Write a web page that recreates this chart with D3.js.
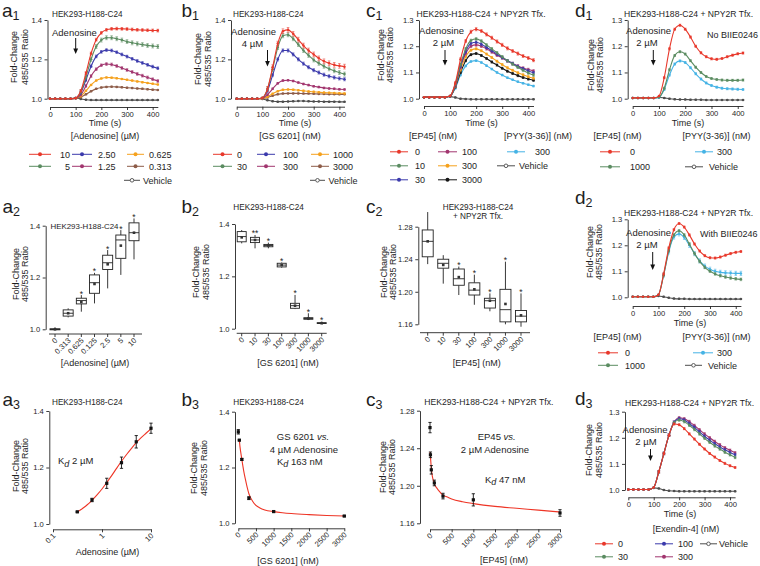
<!DOCTYPE html>
<html><head><meta charset="utf-8">
<script src="https://cdn.jsdelivr.net/npm/d3@7/dist/d3.min.js"></script>
<style>
html,body{margin:0;padding:0;background:#fff;}
svg text{font-family:"Liberation Sans",Arial,Helvetica,sans-serif;fill:#1e1e1e;}
</style></head><body>
<svg id="fig" width="760" height="566" xmlns="http://www.w3.org/2000/svg"></svg>
<script>
// ======================= DATA =======================
const TIME = [0,20,40,60,80,100,120,140,160,180,200,220,240,260,280,300,320,340,360,380,400,420];
const TIME_TICKS = [0,100,200,300,400];

// ---- a1 : [Adenosine] (uM)
const a1Labels = ["10","5","2.50","1.25","0.625","0.313","Vehicle"];
const a1_10   = [1.000,1.000,1.000,1.000,1.000,1.003,1.040,1.130,1.230,1.300,1.335,1.350,1.355,1.356,1.355,1.354,1.352,1.350,1.349,1.348,1.347,1.346];
const a1_5    = [1.000,1.000,1.000,1.000,1.000,1.003,1.035,1.110,1.200,1.265,1.298,1.310,1.310,1.305,1.298,1.290,1.284,1.279,1.275,1.271,1.268,1.265];
const a1_250  = [1.000,1.000,1.000,1.000,1.000,1.003,1.030,1.095,1.165,1.215,1.238,1.247,1.245,1.236,1.225,1.214,1.203,1.192,1.182,1.172,1.163,1.155];
const a1_125  = [1.000,1.000,1.000,1.000,1.000,1.002,1.020,1.065,1.115,1.150,1.170,1.176,1.174,1.166,1.156,1.146,1.136,1.126,1.117,1.108,1.099,1.090];
const a1_0625 = [1.000,1.000,1.000,1.000,1.000,1.002,1.013,1.040,1.070,1.092,1.103,1.108,1.107,1.104,1.100,1.096,1.092,1.088,1.084,1.080,1.076,1.072];
const a1_0313 = [1.000,1.000,1.000,1.000,1.000,1.001,1.008,1.022,1.038,1.050,1.057,1.060,1.061,1.060,1.058,1.056,1.054,1.052,1.050,1.048,1.046,1.044];
const a1_veh  = [1.000,1.000,1.000,1.000,1.000,1.003,0.999,0.995,0.993,0.993,0.993,0.993,0.993,0.993,0.993,0.993,0.993,0.993,0.993,0.993,0.993,0.993];
const a1Err   = [0.007,0.010,0.007,0.007,0.003,0.003,0.002];

// ---- b1 : [GS 6201] (nM)
const b1Labels = ["0","30","100","300","1000","3000","Vehicle"];
const b1_0    = [1.000,1.000,1.000,1.000,1.000,1.005,1.050,1.160,1.280,1.343,1.350,1.330,1.300,1.270,1.245,1.225,1.205,1.190,1.180,1.172,1.167,1.163];
const b1_30   = [1.000,1.000,1.000,1.000,1.000,1.005,1.050,1.150,1.260,1.320,1.325,1.305,1.275,1.245,1.220,1.197,1.180,1.165,1.152,1.142,1.133,1.125];
const b1_100  = [1.000,1.000,1.000,1.000,1.000,1.004,1.040,1.120,1.200,1.245,1.245,1.225,1.200,1.178,1.160,1.145,1.133,1.122,1.114,1.108,1.103,1.099];
const b1_300  = [1.000,1.000,1.000,1.000,1.000,1.002,1.020,1.050,1.078,1.092,1.094,1.090,1.082,1.075,1.069,1.063,1.059,1.055,1.052,1.050,1.048,1.047];
const b1_1000 = [1.000,1.000,1.000,1.000,1.000,1.001,1.010,1.025,1.038,1.045,1.047,1.046,1.043,1.040,1.037,1.035,1.033,1.031,1.030,1.029,1.028,1.027];
const b1_3000 = [1.000,1.000,1.000,1.000,1.000,1.001,1.006,1.015,1.022,1.026,1.027,1.027,1.027,1.026,1.026,1.025,1.024,1.024,1.023,1.023,1.022,1.022];
const b1_veh  = [1.000,1.000,1.000,1.000,1.000,0.999,0.992,0.987,0.985,0.985,0.986,0.987,0.988,0.988,0.987,0.986,0.986,0.985,0.985,0.985,0.984,0.984];
const b1Err   = [0.012,0.010,0.008,0.004,0.003,0.002,0.002];

// ---- c1 : [EP45] (nM), [PYY(3-36)] (nM)
const c1Labels = ["0","10","30","100","300","3000","300","Vehicle"];
const c1_0    = [1.006,1.006,1.006,1.006,1.006,1.010,1.060,1.150,1.220,1.255,1.265,1.258,1.245,1.232,1.218,1.205,1.192,1.182,1.172,1.163,1.155,1.147];
const c1_10   = [1.006,1.006,1.006,1.006,1.006,1.010,1.055,1.130,1.190,1.222,1.228,1.220,1.205,1.190,1.175,1.160,1.145,1.132,1.120,1.108,1.098,1.090];
const c1_30   = [1.006,1.006,1.006,1.006,1.006,1.010,1.052,1.125,1.180,1.210,1.215,1.208,1.196,1.183,1.170,1.157,1.145,1.134,1.123,1.114,1.106,1.099];
const c1_100  = [1.006,1.006,1.006,1.006,1.006,1.010,1.050,1.120,1.172,1.200,1.205,1.200,1.190,1.178,1.166,1.155,1.144,1.134,1.125,1.117,1.111,1.106];
const c1_300  = [1.006,1.006,1.006,1.006,1.006,1.010,1.048,1.110,1.160,1.185,1.190,1.183,1.170,1.157,1.143,1.130,1.118,1.108,1.099,1.091,1.084,1.078];
const c1_3000 = [1.006,1.006,1.006,1.006,1.006,1.009,1.045,1.100,1.145,1.168,1.172,1.165,1.153,1.140,1.128,1.116,1.105,1.096,1.088,1.081,1.075,1.070];
const c1_pyy  = [1.006,1.006,1.006,1.006,1.006,1.009,1.040,1.090,1.125,1.142,1.145,1.138,1.126,1.113,1.100,1.090,1.080,1.072,1.065,1.059,1.053,1.048];
const c1_veh  = [1.006,1.006,1.006,1.006,1.006,1.008,1.005,1.000,0.999,0.998,0.998,0.998,0.998,0.998,0.998,0.998,0.998,0.998,0.998,0.998,0.998,0.998];
const c1Err   = [0.006,0.005,0.005,0.005,0.004,0.004,0.003,0.002];

// ---- d1 : No BIIE0246
const d1Labels = ["0","1000","300","Vehicle"];
const d1_0    = [1.003,1.003,1.003,1.003,1.003,1.010,1.080,1.190,1.265,1.280,1.265,1.235,1.200,1.175,1.160,1.152,1.150,1.153,1.160,1.166,1.171,1.174];
const d1_1000 = [1.003,1.003,1.003,1.003,1.003,1.006,1.040,1.110,1.165,1.179,1.170,1.145,1.120,1.100,1.085,1.077,1.073,1.071,1.070,1.070,1.070,1.071];
const d1_pyy  = [1.003,1.003,1.003,1.003,1.003,1.005,1.035,1.090,1.132,1.144,1.138,1.118,1.095,1.075,1.060,1.050,1.044,1.040,1.038,1.037,1.036,1.035];
const d1_veh  = [1.003,1.003,1.003,1.003,1.003,1.005,1.003,1.000,0.998,0.997,0.997,0.996,0.996,0.996,0.995,0.995,0.995,0.995,0.995,0.995,0.995,0.995];
const d1Err   = [0.004,0.004,0.004,0.002];

// ---- d2 : With BIIE0246
const d2Labels = ["0","1000","300","Vehicle"];
const d2_0    = [1.002,1.002,1.002,1.002,1.002,1.010,1.090,1.190,1.260,1.284,1.270,1.240,1.205,1.178,1.160,1.152,1.151,1.155,1.162,1.168,1.173,1.176];
const d2_1000 = [1.002,1.002,1.002,1.002,1.002,1.010,1.085,1.180,1.240,1.256,1.240,1.205,1.168,1.138,1.115,1.100,1.090,1.083,1.078,1.074,1.071,1.069];
const d2_pyy  = [1.002,1.002,1.002,1.002,1.002,1.010,1.085,1.175,1.232,1.244,1.230,1.200,1.168,1.140,1.120,1.108,1.100,1.096,1.094,1.093,1.092,1.092];
const d2_veh  = [1.002,1.002,1.002,1.002,1.002,1.005,1.002,0.998,0.995,0.994,0.994,0.993,0.993,0.993,0.993,0.993,0.993,0.993,0.993,0.993,0.993,0.993];
const d2Err   = [0.004,0.005,0.008,0.002];

// ---- d3 : [Exendin-4] (nM)
const d3Labels = ["0","30","100","300","Vehicle"];
const d3_0    = [1.002,1.002,1.002,1.002,1.002,1.010,1.070,1.140,1.210,1.253,1.250,1.235,1.215,1.195,1.175,1.157,1.140,1.126,1.113,1.102,1.093,1.086];
const d3_30   = [1.002,1.002,1.002,1.002,1.002,1.010,1.070,1.140,1.210,1.258,1.268,1.262,1.248,1.232,1.215,1.198,1.183,1.169,1.157,1.145,1.135,1.125];
const d3_100  = [1.002,1.002,1.002,1.002,1.002,1.010,1.070,1.140,1.210,1.260,1.273,1.268,1.255,1.240,1.223,1.206,1.191,1.177,1.165,1.154,1.144,1.135];
const d3_300  = [1.002,1.002,1.002,1.002,1.002,1.010,1.070,1.140,1.210,1.260,1.277,1.273,1.262,1.247,1.231,1.215,1.200,1.186,1.173,1.162,1.152,1.143];
const d3_veh  = [1.002,1.002,1.002,1.002,1.002,1.008,1.006,1.000,0.997,0.996,0.995,0.995,0.995,0.995,0.995,0.995,0.995,0.995,0.995,0.995,0.995,0.995];
const d3Err   = [0.004,0.005,0.005,0.005,0.002];

// ---- a2 box plot
const a2Cats = ["0","0.313","0.625","0.125","2.5","5","10"];
const a2Lo   = [0.997,1.046,1.068,1.100,1.158,1.210,1.270];
const a2Q1   = [0.998,1.051,1.098,1.139,1.231,1.274,1.342];
const a2Med  = [1.000,1.062,1.111,1.180,1.257,1.345,1.373];
const a2Q3   = [1.002,1.075,1.120,1.210,1.286,1.364,1.411];
const a2Hi   = [1.008,1.081,1.132,1.218,1.306,1.383,1.428];
const a2Mean = [1.000,1.062,1.105,1.175,1.251,1.323,1.373];
const a2Star = ["","","*","*","*","*","*"];

// ---- b2 box plot
const b2Cats = ["0","10","30","100","300","1000","3000"];
const b2Lo   = [1.326,1.307,1.307,1.233,1.075,1.033,1.019];
const b2Q1   = [1.332,1.329,1.313,1.236,1.078,1.036,1.020];
const b2Med  = [1.352,1.339,1.318,1.243,1.088,1.039,1.021];
const b2Q3   = [1.371,1.349,1.322,1.250,1.097,1.042,1.023];
const b2Hi   = [1.377,1.358,1.329,1.253,1.129,1.059,1.027];
const b2Mean = [1.349,1.339,1.318,1.243,1.088,1.039,1.021];
const b2Star = ["","**","*","*","*","*","*"];

// ---- c2 box plot
const c2Cats = ["0","10","30","100","300","1000","3000"];
const c2Lo   = [1.234,1.210,1.196,1.184,1.176,1.160,1.157];
const c2Q1   = [1.243,1.229,1.208,1.196,1.180,1.163,1.163];
const c2Med  = [1.262,1.235,1.216,1.202,1.189,1.178,1.170];
const c2Q3   = [1.276,1.240,1.228,1.211,1.192,1.203,1.177];
const c2Hi   = [1.298,1.245,1.231,1.221,1.198,1.237,1.198];
const c2Mean = [1.262,1.233,1.218,1.203,1.189,1.185,1.171];
const c2Star = ["","","*","*","*","*","*"];

// ---- a3 dose response
const a3X   = [0.313,0.625,1.25,2.5,5,10];
const a3Y   = [1.043,1.085,1.144,1.217,1.291,1.339];
const a3E   = [0.002,0.006,0.018,0.020,0.022,0.018];
const a3FitX = [0.313,0.4,0.5,0.625,0.8,1,1.25,1.6,2,2.5,3.2,4,5,6.3,8,10];
const a3FitY = [1.042,1.055,1.068,1.084,1.104,1.124,1.147,1.173,1.198,1.222,1.247,1.268,1.288,1.306,1.322,1.337];

// ---- b3 competition
const b3X   = [0,30,100,300,1000,3000];
const b3Y   = [1.328,1.298,1.229,1.090,1.042,1.026];
const b3E   = [0.008,0.002,0.003,0.005,0.003,0.002];
const b3FitX = [30,50,75,100,150,200,250,300,400,500,600,750,1000,1250,1500,2000,2500,3000];
const b3FitY = [1.298,1.272,1.250,1.229,1.190,1.158,1.130,1.106,1.080,1.064,1.056,1.048,1.042,1.038,1.035,1.031,1.028,1.026];

// ---- c3 competition
const c3X   = [0,10,30,100,300,1000,3000];
const c3Y   = [1.262,1.233,1.217,1.203,1.189,1.185,1.171];
const c3E   = [0.0055,0.003,0.0045,0.003,0.003,0.0065,0.0035];
const c3FitX = [0,10,20,30,50,75,100,150,200,300,400,500,750,1000,1500,2000,2500,3000];
const c3FitY = [1.236,1.231,1.225,1.219,1.211,1.206,1.202,1.198,1.195,1.190,1.188,1.186,1.183,1.181,1.178,1.176,1.174,1.172];

// ======================= STYLE =======================
const RED="#e8382b", GREEN="#5b8c61", BLUE="#3b3aac", PURPLE="#a2366f", ORANGE="#f5a11d",
      BROWN="#8d5c48", BLACK="#161616", LBLUE="#45b3e5", VEH="#4d4d4d";
const INK = "#1e1e1e";
const svg = d3.select("#fig");

function txt(x, y, s, size, anchor) {
  return svg.append("text").attr("x", x).attr("y", y).attr("font-size", size)
    .attr("text-anchor", anchor || "start").text(s);
}
function styleAxis(sel) {
  sel.select(".domain").attr("stroke", "#262626").attr("stroke-width", 0.9);
  sel.selectAll(".tick line").attr("stroke", "#262626").attr("stroke-width", 0.9);
  sel.selectAll(".tick text").attr("font-size", 7.6).attr("fill", INK)
     .attr("font-family", '"Liberation Sans", Arial, sans-serif');
}
function panelLabel(x, y, letter, sub) {
  const t = svg.append("text").attr("x", x).attr("y", y).attr("font-size", 19).text(letter);
  t.append("tspan").attr("font-size", 12.5).attr("dy", 3).text(sub);
}
function yLabel(x1, x2, cy) {
  [["Fold-Change", x1], ["485/535 Ratio", x2]].forEach(([s, x]) => {
    svg.append("text").attr("transform", `translate(${x},${cy}) rotate(-90)`)
      .attr("text-anchor", "middle").attr("font-size", 9).text(s);
  });
}
function arrow(x, y1, y2) {
  svg.append("line").attr("x1", x).attr("x2", x).attr("y1", y1).attr("y2", y2 - 4)
    .attr("stroke", "#111").attr("stroke-width", 1);
  svg.append("path").attr("d", `M${x-2.4},${y2-5.5}L${x+2.4},${y2-5.5}L${x},${y2}Z`).attr("fill", "#111");
}
function legendItem(x1, x2, lx, y, color, label, anchor, open) {
  const cy = y - 3.2;
  svg.append("line").attr("x1", x1).attr("x2", x2).attr("y1", cy).attr("y2", cy)
    .attr("stroke", color).attr("stroke-width", 1);
  const c = svg.append("circle").attr("cx", (x1 + x2) / 2).attr("cy", cy);
  if (open) c.attr("r", 1.8).attr("fill", "#fff").attr("stroke", color).attr("stroke-width", 0.9);
  else c.attr("r", 2).attr("fill", color);
  txt(lx, y, label, 9, anchor || "start");
}

function timePanel(c) {
  const x = d3.scaleLinear().domain([0, 420]).range([c.x0, c.x1]);
  const y = d3.scaleLinear().domain(c.yDom).range([c.yB, c.yT]);
  const g = svg.append("g");
  g.append("g").attr("transform", `translate(${c.ax},0)`)
    .call(d3.axisLeft(y).tickValues(c.yTicks).tickFormat(d3.format(".1f")).tickSize(3).tickSizeOuter(0).tickPadding(2.5))
    .call(styleAxis);
  g.append("g").attr("transform", `translate(0,${c.ay})`)
    .call(d3.axisBottom(x).tickValues(TIME_TICKS).tickFormat(d3.format("d")).tickSize(3).tickSizeOuter(0).tickPadding(1.5))
    .call(styleAxis);
  const line = d3.line().x((d, i) => x(TIME[i])).y(d => y(d)).curve(d3.curveMonotoneX);
  for (let k = c.series.length - 1; k >= 0; k--) {
    const vals = c.series[k], col = c.colors[k], e = c.errs[k];
    const sg = g.append("g");
    vals.forEach((v, i) => {
      if (TIME[i] > 100 && e > 0) {
        const px = x(TIME[i]), ya = y(v - e), yb = y(v + e);
        sg.append("line").attr("x1", px).attr("x2", px).attr("y1", ya).attr("y2", yb)
          .attr("stroke", col).attr("stroke-width", 0.7).attr("opacity", 0.75);
        [ya, yb].forEach(yy => sg.append("line").attr("x1", px - 1.3).attr("x2", px + 1.3)
          .attr("y1", yy).attr("y2", yy).attr("stroke", col).attr("stroke-width", 0.7).attr("opacity", 0.75));
      }
    });
    sg.append("path").attr("d", line(vals)).attr("fill", "none").attr("stroke", col).attr("stroke-width", 1.1);
    sg.selectAll("circle").data(vals).join("circle")
      .attr("cx", (d, i) => x(TIME[i])).attr("cy", d => y(d)).attr("r", 1.25).attr("fill", col);
  }
  txt(c.tlx, c.tly, "Time (s)", 9, "middle");
  return { x, y };
}

function boxPanel(c) {
  const x = d3.scalePoint().domain(c.cats).range([c.xa, c.xb]);
  const y = d3.scaleLinear().domain(c.yDom).range([c.yB, c.yT]);
  const g = svg.append("g");
  g.append("g").attr("transform", `translate(${c.ax},0)`)
    .call(d3.axisLeft(y).tickValues(c.yTicks).tickFormat(d3.format(c.fmt)).tickSize(3).tickSizeOuter(0).tickPadding(2.5))
    .call(styleAxis);
  g.append("line").attr("x1", c.axL).attr("x2", c.axR).attr("y1", c.ay).attr("y2", c.ay)
    .attr("stroke", "#262626").attr("stroke-width", 0.9);
  const w = c.bw;
  c.cats.forEach((cat, i) => {
    const px = x(cat);
    g.append("line").attr("x1", px).attr("x2", px).attr("y1", c.ay).attr("y2", c.ay + 3)
      .attr("stroke", "#262626").attr("stroke-width", 0.9);
    g.append("text").attr("transform", `translate(${px + 3},${c.ay + 7}) rotate(-45)`)
      .attr("text-anchor", "end").attr("font-size", 7.6).text(cat);
    const ln = (x1, y1, x2, y2) => g.append("line").attr("x1", x1).attr("x2", x2).attr("y1", y1).attr("y2", y2)
      .attr("stroke", "#222").attr("stroke-width", 0.9);
    ln(px, y(c.lo[i]), px, y(c.q1[i]));
    ln(px, y(c.q3[i]), px, y(c.hi[i]));
    g.append("rect").attr("x", px - w / 2).attr("y", y(c.q3[i])).attr("width", w)
      .attr("height", Math.max(0.8, y(c.q1[i]) - y(c.q3[i]))).attr("fill", "#fff")
      .attr("stroke", "#222").attr("stroke-width", 0.9);
    ln(px - w / 2, y(c.med[i]), px + w / 2, y(c.med[i]));
    g.append("rect").attr("x", px - 1.3).attr("y", y(c.mean[i]) - 1.3).attr("width", 2.6).attr("height", 2.6)
      .attr("fill", "#333");
    if (c.star[i]) g.append("text").attr("x", px).attr("y", y(c.hi[i]) + 1.5).attr("text-anchor", "middle")
      .attr("font-size", 8.5).text(c.star[i]);
  });
}

function fitPanel(c) {
  const x = c.log ? d3.scaleLog().domain(c.xDom).range([c.xa, c.xb]) : d3.scaleLinear().domain(c.xDom).range([c.xa, c.xb]);
  const y = d3.scaleLinear().domain(c.yDom).range([c.yB, c.yT]);
  const g = svg.append("g");
  g.append("g").attr("transform", `translate(${c.ax},0)`)
    .call(d3.axisLeft(y).tickValues(c.yTicks).tickFormat(d3.format(c.fmt)).tickSize(3).tickSizeOuter(0).tickPadding(2.5))
    .call(styleAxis);
  g.append("g").attr("transform", `translate(0,${c.ay})`)
    .call(d3.axisBottom(x).tickValues(c.xTicks).tickFormat("").tickSize(3).tickSizeOuter(0))
    .call(styleAxis);
  c.xTicks.forEach((t, i) => {
    g.append("text").attr("transform", `translate(${x(t) + 3},${c.ay + 7}) rotate(-45)`)
      .attr("text-anchor", "end").attr("font-size", 7.6).text(c.xTickLabels[i]);
  });
  const line = d3.line().x(d => x(d[0])).y(d => y(d[1])).curve(d3.curveMonotoneX);
  g.append("path").attr("d", line(c.fitX.map((v, i) => [v, c.fitY[i]]))).attr("fill", "none")
    .attr("stroke", "#ee3526").attr("stroke-width", 1.1);
  c.px.forEach((v, i) => {
    const px = x(v), ya = y(c.py[i] - c.pe[i]), yb = y(c.py[i] + c.pe[i]);
    g.append("line").attr("x1", px).attr("x2", px).attr("y1", ya).attr("y2", yb).attr("stroke", "#111").attr("stroke-width", 0.9);
    [ya, yb].forEach(yy => g.append("line").attr("x1", px - 1.6).attr("x2", px + 1.6).attr("y1", yy).attr("y2", yy)
      .attr("stroke", "#111").attr("stroke-width", 0.9));
    g.append("rect").attr("x", px - 1.6).attr("y", y(c.py[i]) - 1.6).attr("width", 3.2).attr("height", 3.2).attr("fill", "#111");
  });
}

function kd(x, y, rest) {
  const t = svg.append("text").attr("x", x).attr("y", y).attr("font-size", 9.5);
  t.append("tspan").text("K");
  t.append("tspan").attr("font-style", "italic").attr("font-size", 9).attr("dy", 2.5).text("d");
  t.append("tspan").attr("dy", -2.5).text(" " + rest);
}

// ======================= ROW 1 =======================
const TITLE = "HEK293-H188-C24";
const TITLE2 = "HEK293-H188-C24 + NPY2R Tfx.";

// a1
panelLabel(2, 16.5, "a", "1");
txt(52, 17, TITLE, 8.2);
yLabel(17, 27.5, 57);
timePanel({ x0: 50, x1: 157.8, yB: 98.7, yT: 20, yDom: [1, 1.4], yTicks: [1.0, 1.2, 1.4], ax: 47.5, ay: 107,
  series: [a1_10, a1_5, a1_250, a1_125, a1_0625, a1_0313, a1_veh],
  colors: [RED, GREEN, BLUE, PURPLE, ORANGE, BROWN, VEH], errs: a1Err, tlx: 105, tly: 125.5 });
txt(52, 35.5, "Adenosine", 9.5);
arrow(75.7, 38, 54);
txt(105, 138.5, "[Adenosine] (µM)", 9, "middle");
[[0, 29, 51, 70, 157.5, "end"], [1, 29, 51, 70, 169.5, "end"], [2, 72, 92, 98, 157.5], [3, 72, 92, 98, 169.5],
 [4, 127, 144, 149, 157.5], [5, 127, 144, 149, 169.5]].forEach(([i, x1, x2, lx, y, an]) =>
  legendItem(x1, x2, lx, y, [RED, GREEN, BLUE, PURPLE, ORANGE, BROWN][i], a1Labels[i], an));
legendItem(124, 140, 143, 183.5, VEH, a1Labels[6], "start", true);

// b1
panelLabel(181.5, 16.5, "b", "1");
txt(233, 17, TITLE, 8.2);
yLabel(200.5, 211, 59);
timePanel({ x0: 236.7, x1: 344.5, yB: 98.7, yT: 20, yDom: [1, 1.4], yTicks: [1.0, 1.2, 1.4], ax: 231, ay: 106.7,
  series: [b1_0, b1_30, b1_100, b1_300, b1_1000, b1_3000, b1_veh],
  colors: [RED, GREEN, BLUE, PURPLE, ORANGE, BROWN, VEH], errs: b1Err, tlx: 295, tly: 125.5 });
txt(253.5, 34.5, "Adenosine", 9.5, "middle");
txt(252.5, 46.5, "4 µM", 9.5, "middle");
arrow(267.5, 50, 66.5);
txt(290, 138.5, "[GS 6201] (nM)", 9, "middle");
[[0, 213, 232, 237, 157.5], [1, 213, 232, 237, 169.5], [2, 257, 275, 283, 157.5], [3, 257, 275, 283, 169.5],
 [4, 311, 329, 333, 157.5], [5, 311, 329, 333, 169.5]].forEach(([i, x1, x2, lx, y]) =>
  legendItem(x1, x2, lx, y, [RED, GREEN, BLUE, PURPLE, ORANGE, BROWN][i], b1Labels[i]));
legendItem(310, 325, 328.5, 183.5, VEH, b1Labels[6], "start", true);

// c1
panelLabel(366, 16.5, "c", "1");
txt(416.5, 17, TITLE2, 8.6);
yLabel(383.5, 393, 55);
timePanel({ x0: 424, x1: 533.5, yB: 98.7, yT: 20, yDom: [1, 1.3], yTicks: [1.0, 1.1, 1.2, 1.3], ax: 419, ay: 106,
  series: [c1_0, c1_10, c1_30, c1_100, c1_300, c1_3000, c1_pyy, c1_veh],
  colors: [RED, GREEN, BLUE, PURPLE, ORANGE, BLACK, LBLUE, VEH], errs: c1Err, tlx: 481.5, tly: 125.5 });
txt(441.5, 34, "Adenosine", 9.5, "middle");
txt(443.5, 46, "2 µM", 9.5, "middle");
arrow(445, 50, 65.5);
txt(433, 138.5, "[EP45] (nM)", 9, "middle");
txt(538, 138.5, "[PYY(3-36)] (nM)", 9, "middle");
[[0, 390, 408, 415, 155], [1, 390, 408, 415, 169], [2, 390, 408, 415, 183], [3, 438, 457, 462, 155],
 [4, 438, 457, 462, 169], [5, 438, 457, 462, 183], [6, 507, 525, 535, 155]].forEach(([i, x1, x2, lx, y]) =>
  legendItem(x1, x2, lx, y, [RED, GREEN, BLUE, PURPLE, ORANGE, BLACK, LBLUE][i], c1Labels[i]));
legendItem(497, 515, 519, 169, VEH, c1Labels[7], "start", true);

// d1
panelLabel(575, 16.5, "d", "1");
txt(624, 17, TITLE2, 8.6);
yLabel(593.5, 603, 65);
timePanel({ x0: 632.7, x1: 743, yB: 98.7, yT: 20, yDom: [1, 1.3], yTicks: [1.0, 1.1, 1.2, 1.3], ax: 627.7, ay: 106,
  series: [d1_0, d1_1000, d1_pyy, d1_veh], colors: [RED, GREEN, LBLUE, VEH], errs: d1Err, tlx: 688, tly: 125.5 });
txt(648.5, 34, "Adenosine", 9.5, "middle");
txt(647, 46, "2 µM", 9.5, "middle");
arrow(653.3, 50, 65.5);
txt(707, 38, "No BIIE0246", 9);
txt(617.5, 138.5, "[EP45] (nM)", 9, "middle");
txt(716.5, 138.5, "[PYY(3-36)] (nM)", 9, "middle");
legendItem(600, 620, 630, 155, RED, d1Labels[0]);
legendItem(600, 620, 630, 170, GREEN, d1Labels[1]);
legendItem(695, 713, 717, 155, LBLUE, d1Labels[2]);
legendItem(685, 703, 709, 170, VEH, d1Labels[3], "start", true);

// ======================= ROW 2 =======================
// a2
panelLabel(2.5, 213, "a", "2");
txt(50.5, 228.5, TITLE, 7.9);
yLabel(19, 28, 274);
boxPanel({ cats: a2Cats, xa: 55, xb: 134, yDom: [1, 1.4], yB: 329.3, yT: 225.7, yTicks: [1.0, 1.2, 1.4], fmt: ".1f",
  ax: 45.7, ay: 334, axL: 49, axR: 142, bw: 10, lo: a2Lo, q1: a2Q1, med: a2Med, q3: a2Q3, hi: a2Hi, mean: a2Mean, star: a2Star });
txt(95, 366, "[Adenosine] (µM)", 9, "middle");

// b2
panelLabel(181.5, 213, "b", "2");
txt(233.3, 210, TITLE, 8.2);
yLabel(198.5, 209, 272);
boxPanel({ cats: b2Cats, xa: 241.7, xb: 321.7, yDom: [1, 1.4], yB: 328.7, yT: 224, yTicks: [1.0, 1.2, 1.4], fmt: ".1f",
  ax: 235, ay: 333.3, axL: 236.7, axR: 326.7, bw: 9, lo: b2Lo, q1: b2Q1, med: b2Med, q3: b2Q3, hi: b2Hi, mean: b2Mean, star: b2Star });
txt(288, 366, "[GS 6201] (nM)", 9, "middle");

// c2
panelLabel(366, 213, "c", "2");
txt(478, 210, TITLE, 8.2, "middle");
txt(478, 218.5, "+ NPY2R Tfx.", 8.2, "middle");
yLabel(386.5, 395.5, 272);
boxPanel({ cats: c2Cats, xa: 427.7, xb: 521, yDom: [1.16, 1.28], yB: 324.3, yT: 226.7, yTicks: [1.16, 1.20, 1.24, 1.28], fmt: ".2f",
  ax: 418.3, ay: 332.7, axL: 420, axR: 530, bw: 11, lo: c2Lo, q1: c2Q1, med: c2Med, q3: c2Q3, hi: c2Hi, mean: c2Mean, star: c2Star });
txt(476.7, 366, "[EP45] (nM)", 9, "middle");

// d2
panelLabel(575, 204, "d", "2");
txt(624, 216, TITLE2, 8.6);
yLabel(593, 602, 252);
timePanel({ x0: 632.7, x1: 740.9, yB: 297.3, yT: 219.3, yDom: [1, 1.3], yTicks: [1.0, 1.1, 1.2, 1.3], ax: 627.7, ay: 306,
  series: [d2_0, d2_1000, d2_pyy, d2_veh], colors: [RED, GREEN, LBLUE, VEH], errs: d2Err, tlx: 690, tly: 326 });
txt(648.5, 236, "Adenosine", 9.5, "middle");
txt(647, 248, "2 µM", 9.5, "middle");
arrow(652.7, 252, 270);
txt(700, 236.5, "With BIIE0246", 9);
txt(617.5, 339.5, "[EP45] (nM)", 9, "middle");
txt(716.5, 339.5, "[PYY(3-36)] (nM)", 9, "middle");
legendItem(598, 618, 625, 356, RED, d2Labels[0]);
legendItem(598, 618, 625, 368.5, GREEN, d2Labels[1]);
legendItem(693, 713, 717, 356, LBLUE, d2Labels[2]);
legendItem(685, 702, 708, 368.5, VEH, d2Labels[3], "start", true);

// ======================= ROW 3 =======================
// a3
panelLabel(2.5, 406, "a", "3");
txt(52, 405, TITLE, 8.2);
yLabel(19, 28, 466);
fitPanel({ log: true, xDom: [0.1, 10], xa: 53, xb: 151, yDom: [1, 1.4], yB: 524, yT: 411, yTicks: [1.0, 1.2, 1.4], fmt: ".1f",
  ax: 49.3, ay: 529.3, xTicks: [0.1, 1, 10], xTickLabels: ["0.1", "1", "10"],
  px: a3X, py: a3Y, pe: a3E, fitX: a3FitX, fitY: a3FitY });
kd(58, 464, "2 µM");
txt(107.5, 555, "Adenosine (µM)", 9, "middle");

// b3
panelLabel(181.5, 406, "b", "3");
txt(233.3, 405, TITLE, 8.2);
yLabel(197, 207, 468);
fitPanel({ log: false, xDom: [0, 3000], xa: 238.3, xb: 344.3, yDom: [1, 1.4], yB: 523.3, yT: 411.7, yTicks: [1.0, 1.2, 1.4], fmt: ".1f",
  ax: 235, ay: 528.3, xTicks: [0, 500, 1000, 1500, 2000, 2500, 3000], xTickLabels: ["0", "500", "1000", "1500", "2000", "2500", "3000"],
  px: b3X, py: b3Y, pe: b3E, fitX: b3FitX, fitY: b3FitY });
{
  const t = txt(303, 440, "GS 6201 ", 9.5, "middle");
  t.append("tspan").attr("font-style", "italic").text("vs.");
}
txt(304, 452.7, "4 µM Adenosine", 9.5, "middle");
kd(277, 464.5, "163 nM");
txt(288, 564, "[GS 6201] (nM)", 9, "middle");

// c3
panelLabel(366, 406, "c", "3");
txt(424.3, 405, TITLE2, 8.6);
yLabel(386, 395, 467);
fitPanel({ log: false, xDom: [0, 3000], xa: 430, xb: 560, yDom: [1.16, 1.28], yB: 523.3, yT: 410.7, yTicks: [1.16, 1.20, 1.24, 1.28], fmt: ".2f",
  ax: 420, ay: 529.3, xTicks: [0, 500, 1000, 1500, 2000, 2500, 3000], xTickLabels: ["0", "500", "1000", "1500", "2000", "2500", "3000"],
  px: c3X, py: c3Y, pe: c3E, fitX: c3FitX, fitY: c3FitY });
{
  const t = txt(496.7, 440, "EP45 ", 9.5, "middle");
  t.append("tspan").attr("font-style", "italic").text("vs.");
}
txt(495, 452.7, "2 µM Adenosine", 9.5, "middle");
kd(485, 482.5, "47 nM");
txt(504, 563, "[EP45] (nM)", 9, "middle");

// d3
panelLabel(575, 405, "d", "3");
txt(625, 406, TITLE2, 8.6);
yLabel(592, 601.5, 450);
timePanel({ x0: 628.3, x1: 735.1, yB: 490, yT: 411.7, yDom: [1, 1.3], yTicks: [1.0, 1.1, 1.2, 1.3], ax: 625, ay: 497.3,
  series: [d3_0, d3_30, d3_100, d3_300, d3_veh], colors: [RED, GREEN, BLUE, PURPLE, VEH], errs: d3Err, tlx: 680, tly: 517 });
txt(645, 433, "Adenosine", 9.5, "middle");
txt(646, 445, "2 µM", 9.5, "middle");
arrow(650.5, 449, 461);
txt(686, 532, "[Exendin-4] (nM)", 9, "middle");
legendItem(595, 613, 618, 547, RED, d3Labels[0]);
legendItem(595, 613, 618, 560, GREEN, d3Labels[1]);
legendItem(655, 673, 678, 547, BLUE, d3Labels[2]);
legendItem(655, 673, 678, 560, PURPLE, d3Labels[3]);
legendItem(700, 717, 719, 547, VEH, d3Labels[4], "start", true);
</script>
</body></html>
